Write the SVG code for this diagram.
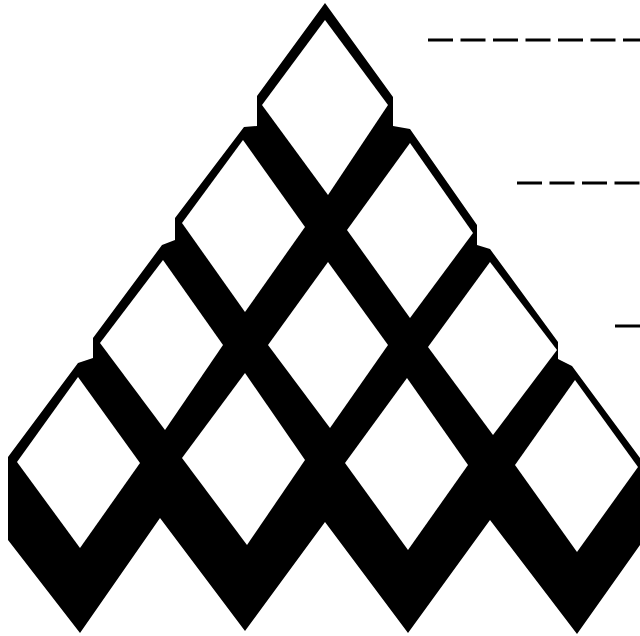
<svg xmlns="http://www.w3.org/2000/svg" width="640" height="636" viewBox="0 0 640 636">
<style>
.ink{fill:#000}
.hole{fill:#fff}
.dash{stroke:#000;stroke-width:3;stroke-dasharray:25 7.5;fill:none}
</style>
<rect width="640" height="636" fill="#fff"/>
<g id="lattice">
<polygon class="ink" points="325,3 257,96 257,126 244,127 175,218 175,240 162,245 93,338 93,358 78,363 8,457 8,540 80,633 160,518 245,631 325,522 408,633 490,520 577,634 640,545 640,458 572,366 558,359 558,342 490,249 477,245 477,225 410,129 393,126 393,97"/>
</g>
<g id="diamonds">
<polygon class="hole" points="325,20 388,105 328,195 262,105"/>
<polygon class="hole" points="243,140 305,227 245,312 182,223"/>
<polygon class="hole" points="410,143 473,233 410,318 347,230"/>
<polygon class="hole" points="163,260 223,345 165,430 100,343"/>
<polygon class="hole" points="328,262 388,345 330,428 268,345"/>
<polygon class="hole" points="490,262 557,350 493,435 428,347"/>
<polygon class="hole" points="78,377 140,463 80,548 17,462"/>
<polygon class="hole" points="245,373 305,460 247,545 182,458"/>
<polygon class="hole" points="407,378 468,465 408,550 345,463"/>
<polygon class="hole" points="575,380 638,467 577,552 515,465"/>
</g>
<g id="levels">
<line class="dash" x1="428" y1="40" x2="640" y2="40"/>
<line class="dash" x1="517" y1="183" x2="640" y2="183"/>
<line class="dash" x1="615" y1="326" x2="640" y2="326"/>
</g>
</svg>
